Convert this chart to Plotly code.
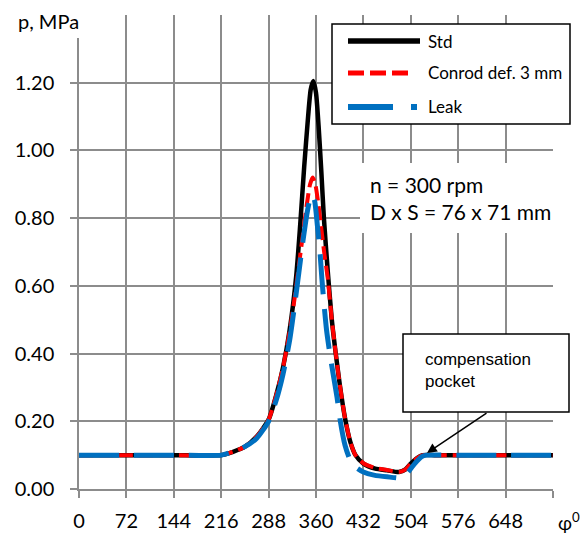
import plotly.graph_objects as go

# ---------------- data ----------------
std_deg = [0, 72, 144, 216, 234, 252, 270, 288, 300, 310, 320, 330, 336, 342, 348, 352, 356,
           360, 364, 368, 372, 378, 384, 390, 396, 404, 412, 420, 432, 450, 468, 486, 496,
           504, 514, 522, 540, 576, 648, 720]
std_p = [0.10, 0.10, 0.10, 0.10, 0.11, 0.125, 0.155, 0.205, 0.28, 0.36, 0.47, 0.63, 0.78, 0.95,
         1.10, 1.18, 1.205, 1.17, 1.07, 0.94, 0.80, 0.64, 0.50, 0.40, 0.31, 0.21, 0.14, 0.10,
         0.075, 0.06, 0.055, 0.05, 0.058, 0.075, 0.092, 0.10, 0.10, 0.10, 0.10, 0.10]

conrod_deg = [0, 72, 144, 216, 234, 252, 270, 288, 300, 310, 320, 328, 334, 340, 346, 351, 355,
              359, 363, 368, 373, 378, 384, 390, 396, 404, 412, 420, 432, 450, 468, 486, 496,
              504, 514, 522, 540, 576, 648, 720]
conrod_p = [0.10, 0.10, 0.10, 0.10, 0.11, 0.125, 0.155, 0.205, 0.28, 0.36, 0.465, 0.57, 0.66,
            0.75, 0.84, 0.90, 0.92, 0.90, 0.85, 0.77, 0.69, 0.62, 0.50, 0.40, 0.31, 0.21, 0.14,
            0.10, 0.076, 0.062, 0.056, 0.05, 0.058, 0.075, 0.092, 0.10, 0.10, 0.10, 0.10, 0.10]

leak_deg = [0, 72, 144, 216, 234, 252, 270, 288, 300, 310, 320, 328, 334, 340, 346, 350, 354,
            358, 362, 366, 369, 372, 376, 381, 386, 392, 397, 404, 412, 420, 432, 448, 468,
            492, 500, 510, 520, 528, 576, 648, 720]
leak_p = [0.10, 0.10, 0.10, 0.10, 0.11, 0.125, 0.15, 0.20, 0.265, 0.34, 0.44, 0.55, 0.64, 0.73,
          0.81, 0.85, 0.87, 0.85, 0.78, 0.70, 0.62, 0.55, 0.47, 0.40, 0.34, 0.27, 0.20, 0.13,
          0.085, 0.065, 0.05, 0.041, 0.036, 0.033, 0.05, 0.075, 0.095, 0.10, 0.10, 0.10, 0.10]

x_ticks = [0, 72, 144, 216, 288, 360, 432, 504, 576, 648, 720]
x_ticktext = ["0", "72", "144", "216", "288", "360", "432", "504", "576", "648", ""]
y_ticks = [0.0, 0.2, 0.4, 0.6, 0.8, 1.0, 1.2, 1.4]
y_ticktext = ["0.00", "0.20", "0.40", "0.60", "0.80", "1.00", "1.20", ""]

series_names = ["Std", "Conrod def. 3 mm", "Leak"]
series_colors = ["#000000", "#ff0000", "#0070c0"]
series_widths = [4.5, 4, 5]
series_dash = ["solid", "14px,6px", "40px,15px"]

FONT = "Lato, Carlito, Calibri, sans-serif"

# plot area in pixels
W, H = 586, 536
L, R, T, B = 79, 33, 15, 47
PW, PH = W - L - R, H - T - B


def px(x):
    return (x - L) / PW


def py(y):
    return (H - B - y) / PH


fig = go.Figure()
for xs, ys, name, col, wd, dsh in zip([std_deg, conrod_deg, leak_deg],
                                      [std_p, conrod_p, leak_p],
                                      series_names, series_colors, series_widths, series_dash):
    fig.add_trace(go.Scatter(x=xs, y=ys, mode="lines", name=name, showlegend=False,
                             line=dict(color=col, width=wd, dash=dsh, shape="spline",
                                       smoothing=0.6)))

shapes = []
annotations = []

# white patch behind "p, MPa"
shapes.append(dict(type="rect", xref="paper", yref="paper", x0=px(0), x1=px(98), y0=py(38), y1=py(0),
                   fillcolor="white", line=dict(width=0), layer="above"))
annotations.append(dict(text="p, MPa", xref="paper", yref="paper", x=px(16), y=py(21),
                        xanchor="left", yanchor="middle", showarrow=False,
                        font=dict(family=FONT, size=20, color="black")))

# legend box
shapes.append(dict(type="rect", xref="paper", yref="paper", x0=px(332), x1=px(570), y0=py(124), y1=py(24),
                   fillcolor="white", line=dict(color="black", width=1.5), layer="above"))
leg_y = [41, 73, 107]
leg_x1 = [420, 412, 420]
leg_dash = ["solid", "16px,6px", "45px,18px,6px,18px"]
for name, col, wd, yy, x1, dsh in zip(series_names, series_colors, series_widths, leg_y, leg_x1, leg_dash):
    shapes.append(dict(type="line", xref="paper", yref="paper", x0=px(348), x1=px(x1), y0=py(yy), y1=py(yy),
                       line=dict(color=col, width=wd + 1, dash=dsh), layer="above"))
    annotations.append(dict(text=name, xref="paper", yref="paper", x=px(426), y=py(yy),
                            xanchor="left", yanchor="middle", showarrow=False,
                            font=dict(family=FONT, size=17, color="black")))

# engine info text
shapes.append(dict(type="rect", xref="paper", yref="paper", x0=px(360), x1=px(556), y0=py(233), y1=py(163),
                   fillcolor="white", line=dict(width=0), layer="above"))
annotations.append(dict(text="n = 300 rpm<br>D x S = 76 x 71 mm", xref="paper", yref="paper",
                        x=px(368), y=py(198), xanchor="left", yanchor="middle", align="left",
                        showarrow=False, font=dict(family=FONT, size=21, color="black")))

# compensation pocket callout
shapes.append(dict(type="rect", xref="paper", yref="paper", x0=px(403), x1=px(569), y0=py(412), y1=py(334),
                   fillcolor="white", line=dict(color="black", width=1.5), layer="above"))
annotations.append(dict(text="compensation<br>pocket", xref="paper", yref="paper",
                        x=px(423), y=py(371), xanchor="left", yanchor="middle", align="left",
                        showarrow=False,
                        font=dict(family="Liberation Sans, Arial, sans-serif", size=17, color="black")))
annotations.append(dict(text="", xref="paper", yref="paper", x=px(427), y=py(453),
                        axref="pixel", ayref="pixel", ax=61, ay=-41, showarrow=True,
                        arrowhead=2, arrowsize=1.3, arrowwidth=1.5, arrowcolor="black"))

# x axis unit label
annotations.append(dict(text="φ<sup>0</sup>", xref="paper", yref="paper", x=px(556), y=py(521),
                        xanchor="left", yanchor="middle", showarrow=False,
                        font=dict(family=FONT, size=19, color="black")))

axis_common = dict(showgrid=True, gridcolor="#8c8c8c", gridwidth=1.5, showline=True,
                   linecolor="#8c8c8c", linewidth=1.5, ticks="outside", tickcolor="#8c8c8c",
                   ticklen=7, tickwidth=1.5, zeroline=False, automargin=False,
                   tickfont=dict(family=FONT, size=20, color="black"))

fig.update_layout(
    width=W, height=H,
    margin=dict(l=L, r=R, t=T, b=B, autoexpand=False),
    paper_bgcolor="white", plot_bgcolor="white",
    xaxis=dict(range=[0, 720], tickmode="array", tickvals=x_ticks, ticktext=x_ticktext,
               mirror=False, ticklabelstandoff=6, **axis_common),
    yaxis=dict(range=[0, 1.4], tickmode="array", tickvals=y_ticks, ticktext=y_ticktext,
               ticklabelstandoff=12, **axis_common),
    shapes=shapes,
    annotations=annotations,
)

fig.write_html("out.html",
               config={"displayModeBar": False},
               post_script="document.body.style.margin='0';document.body.style.overflow='hidden';")
